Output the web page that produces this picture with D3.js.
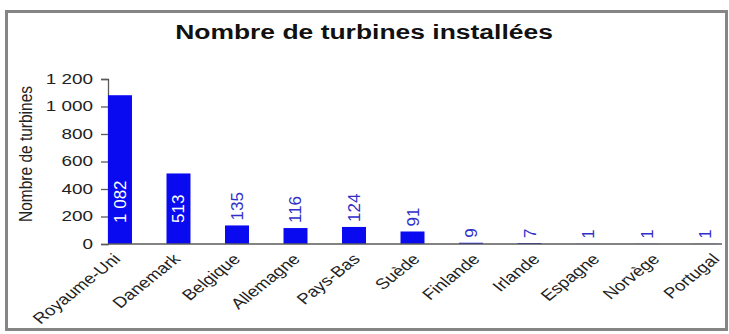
<!DOCTYPE html>
<html>
<head>
<meta charset="utf-8">
<script src="https://cdn.jsdelivr.net/npm/d3@7"></script>
<style>
body { margin: 0; background: #fff; }
</style>
</head>
<body>
<script>
// donnees
var pays = ["Royaume-Uni", "Danemark", "Belgique", "Allemagne", "Pays-Bas", "Suède",
            "Finlande", "Irlande", "Espagne", "Norvège", "Portugal"];
var turbines = [1082, 513, 135, 116, 124, 91, 9, 7, 1, 1, 1];
var yTicks = [0, 200, 400, 600, 800, 1000, 1200];

var W = 729, H = 334;
var plotL = 108, plotR = 717, plotB = 244, plotT = 79;
var sx = 1.35; // le texte de l'original est etire horizontalement
var police = "Liberation Sans, Arial, sans-serif";

var svg = d3.select("body").append("svg")
	.attr("width", W)
	.attr("height", H)
	.style("font-family", police);

// cadre
svg.append("rect")
	.attr("x", 6.5).attr("y", 11.5)
	.attr("width", 720).attr("height", 318)
	.attr("fill", "#fff")
	.attr("stroke", "#858585")
	.attr("stroke-width", 3);

svg.append("text")
	.attr("transform", "translate(364,39) scale(1.26,1)")
	.attr("text-anchor", "middle")
	.attr("font-size", "21px")
	.attr("font-weight", "bold")
	.attr("fill", "#111")
	.text("Nombre de turbines installées");

var x = d3.scaleBand()
	.domain(pays)
	.range([plotL, plotR])
	.paddingInner(0.59)
	.paddingOuter(0);

// les etiquettes de l'axe x sont un peu plus espacees que les barres
var xLab = d3.scalePoint()
	.domain(pays)
	.range([121, 720]);

var y = d3.scaleLinear()
	.domain([0, 1200])
	.range([plotB, plotT]);

var fmt = function(d) { return d3.format(",")(d).replace(/,/g, " "); };

// axe y
var yAxis = svg.append("g")
	.attr("transform", "translate(" + plotL + ",0)")
	.call(d3.axisLeft(y).tickValues(yTicks).tickFormat(fmt).tickSize(7).tickSizeOuter(7).tickPadding(8));
yAxis.selectAll("line, path").attr("stroke", "#5a5a5a").attr("stroke-width", 1.3);
yAxis.selectAll("text")
	.attr("font-size", "14px")
	.attr("fill", "#222")
	.style("font-family", police)
	.attr("transform", function() {
		var tx = +d3.select(this).attr("x");
		return "translate(" + tx + ",0) scale(" + sx + ",1)";
	})
	.attr("x", 0);

svg.append("text")
	.attr("transform", "translate(32,154) scale(1.15,1) rotate(-90)")
	.attr("text-anchor", "middle")
	.attr("font-size", "15.5px")
	.attr("fill", "#222")
	.text("Nombre de turbines");

// barres
svg.selectAll("rect.bar")
	.data(turbines)
	.enter()
	.append("rect")
	.attr("class", "bar")
	.attr("x", function(d, i) { return x(pays[i]); })
	.attr("y", function(d) { return y(d); })
	.attr("width", x.bandwidth())
	.attr("height", function(d) { return plotB - y(d); })
	.attr("fill", "#0a0af0");

// etiquettes de valeurs
svg.selectAll("text.val")
	.data(turbines)
	.enter()
	.append("text")
	.attr("class", "val")
	.attr("transform", function(d, i) {
		var cx = x(pays[i]) + x.bandwidth() / 2 + 6;
		var yy = d > 300 ? plotB - 21 : y(d) - 5;
		return "translate(" + cx + "," + yy + ") rotate(-90)";
	})
	.attr("font-size", "17px")
	.attr("fill", function(d) { return d > 300 ? "#fff" : "#3030c8"; })
	.text(function(d) { return fmt(d); });

// axe x
var xAxis = svg.append("g")
	.attr("transform", "translate(0," + plotB + ")")
	.call(d3.axisBottom(xLab).tickSize(0).tickPadding(0));
xAxis.select(".domain").remove();
svg.append("line")
	.attr("x1", plotL).attr("x2", 722)
	.attr("y1", plotB).attr("y2", plotB)
	.attr("stroke", "#5a5a5a")
	.attr("stroke-width", 1.5);
xAxis.selectAll("text")
	.attr("font-size", "15px")
	.attr("fill", "#222")
	.style("font-family", police)
	.attr("text-anchor", "end")
	.attr("y", 0)
	.attr("dy", "0")
	.attr("transform", "translate(0,16) scale(1.25,1) rotate(-45)");
</script>
</body>
</html>
